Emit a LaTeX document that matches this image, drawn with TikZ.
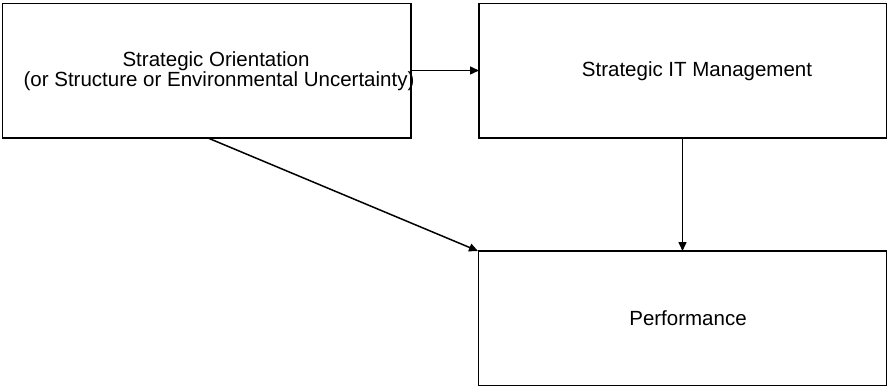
\documentclass[tikz,border=0pt]{standalone}
\usepackage{fontspec}
\setmainfont{Liberation Sans}
\usetikzlibrary{arrows.meta}
\begin{document}
\begin{tikzpicture}[x=1pt,y=-1pt,
  box/.style={draw,line width=1.6pt,inner sep=0pt},
  lbl/.style={font=\fontsize{20.5}{20}\selectfont,anchor=base,inner sep=0pt},
  conn/.style={line width=1.5pt,-{Triangle[length=9pt,width=8pt]}}]
\useasboundingbox (0,0) rectangle (889,388);
\draw[box] (2.5,3.5) rectangle (411,138);
\draw[box] (479,3.5) rectangle (886.5,138);
\draw[box] (478.5,251) rectangle (886.5,385.5);
\node[lbl] (t1a) at (216,66.7) {Strategic Orientation};
\node[lbl] (t1b) at (219,86.5) {(or Structure or Environmental Uncertainty)};
\node[lbl] (t2) at (697,76.7) {Strategic IT Management};
\node[lbl] (t3) at (688,325.7) {Performance};
\coordinate (s1) at (411,70.5);
\coordinate (e1) at (479,70.5);
\coordinate (s2) at (682.5,138);
\coordinate (e2) at (682.5,251);
\coordinate (s3) at (208,138);
\coordinate (e3) at (478,251);
\draw[conn] (s1) -- (e1);
\draw[conn] (s2) -- (e2);
\draw[conn] (s3) -- (e3);
\end{tikzpicture}
\end{document}
